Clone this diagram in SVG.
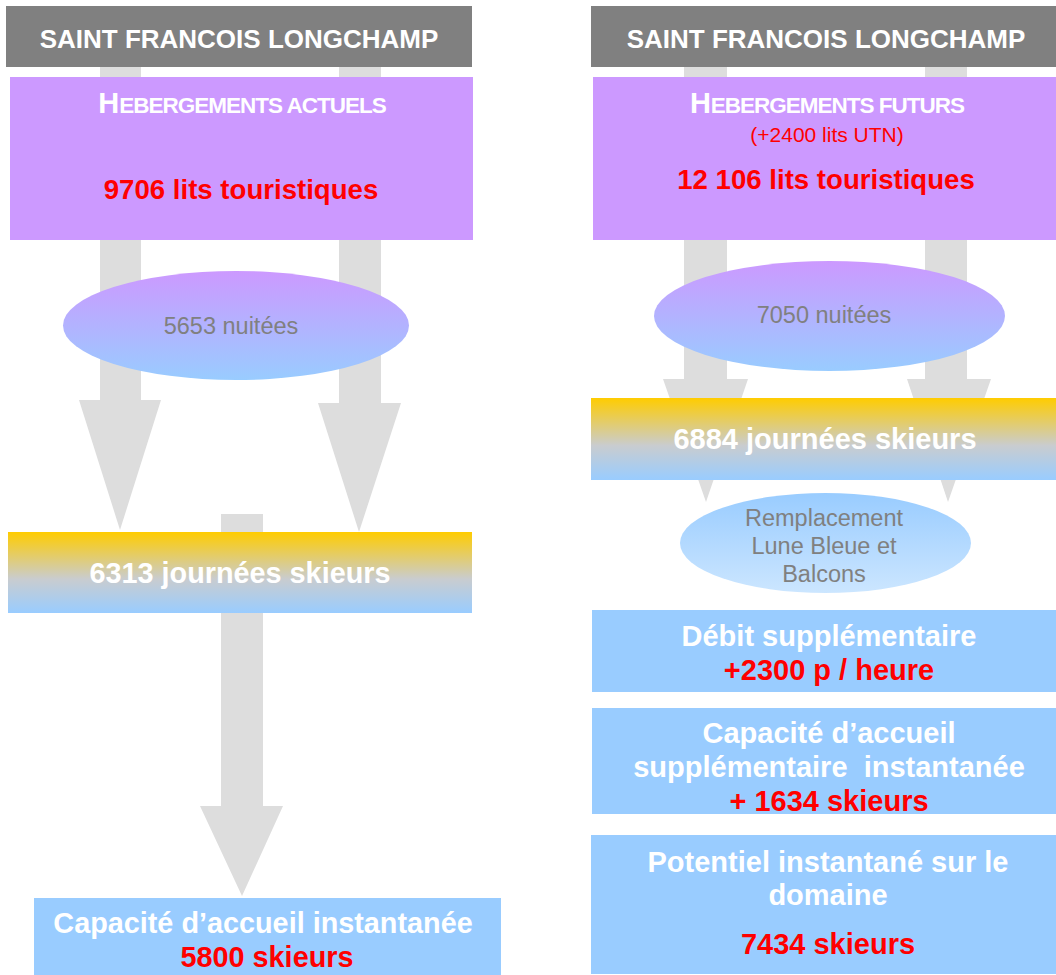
<svg xmlns="http://www.w3.org/2000/svg" width="1056" height="975" viewBox="0 0 1056 975">
  <style>
    text { font-family: "Liberation Sans", Arial, sans-serif; text-anchor: middle; }
    .hdr { fill: #808080; }
    .hdrtxt { fill: #FFFFFF; font-weight: bold; font-size: 26px; }
    .lodg { fill: #CC99FF; }
    .blue { fill: #99CCFF; }
    .white { fill: #FFFFFF; font-weight: bold; }
    .red { fill: #FF0000; font-weight: bold; }
    .grey { fill: #808080; }
    .arrow { fill: #DDDDDD; }
  </style>
  <defs>
    <linearGradient id="gNight" x1="0" y1="0" x2="0" y2="1">
      <stop offset="0" stop-color="#CC99FF"/>
      <stop offset="1" stop-color="#99CCFF"/>
    </linearGradient>
    <linearGradient id="gDay" x1="0" y1="0" x2="0" y2="1">
      <stop offset="0" stop-color="#FFCC00"/>
      <stop offset="0.58" stop-color="#C9CCCF"/>
      <stop offset="1" stop-color="#99CCFF"/>
    </linearGradient>
    <linearGradient id="gLift" x1="0" y1="0" x2="0" y2="1">
      <stop offset="0" stop-color="#99CCFF"/>
      <stop offset="1" stop-color="#CCE6FF"/>
    </linearGradient>
  </defs>

  <!-- flow arrows (behind the boxes) -->
  <g id="connectors">
    <polygon class="arrow" points="100,67 141,67 141,400 161,400 120,530 79,400 100,400"/>
    <polygon class="arrow" points="339,67 381,67 381,403 401,403 359,532 318,403 339,403"/>
    <polygon class="arrow" points="221,514 263,514 263,806 283,806 242,896 200,806 221,806"/>
    <polygon class="arrow" points="684,67 727,67 727,379 748,379 706,502 663,379 684,379"/>
    <polygon class="arrow" points="925,67 967,67 967,379 991,379 948,502 907,379 925,379"/>
  </g>

  <!-- current situation -->
  <g id="header-left">
    <rect class="hdr" x="6" y="6" width="466" height="61"/>
    <text class="hdrtxt" x="239" y="48">SAINT FRANCOIS LONGCHAMP</text>
  </g>
  <g id="lodging-current">
    <rect class="lodg" x="10" y="77" width="463" height="163"/>
    <text class="white" x="242" y="113"><tspan font-size="29">H</tspan><tspan font-size="22.5" letter-spacing="-1">EBERGEMENTS ACTUELS</tspan></text>
    <text class="red" x="241" y="199" font-size="27.6">9706 lits touristiques</text>
  </g>
  <g id="nights-current">
    <ellipse cx="236" cy="325.5" rx="173" ry="54.5" fill="url(#gNight)"/>
    <text class="grey" x="231" y="334" font-size="23.5">5653 nuitées</text>
  </g>
  <g id="skier-days-current">
    <rect x="8" y="532" width="464" height="81" fill="url(#gDay)"/>
    <text class="white" x="240" y="583" font-size="28.8">6313 journées skieurs</text>
  </g>
  <g id="capacity-current">
    <rect class="blue" x="34" y="898" width="467" height="77"/>
    <text class="white" x="263" y="933" font-size="28.8">Capacité d’accueil instantanée</text>
    <text class="red" x="267" y="967" font-size="28.8">5800 skieurs</text>
  </g>

  <!-- future situation -->
  <g id="header-right">
    <rect class="hdr" x="591" y="6" width="465" height="61"/>
    <text class="hdrtxt" x="826" y="48">SAINT FRANCOIS LONGCHAMP</text>
  </g>
  <g id="lodging-future">
    <rect class="lodg" x="593" y="77" width="463" height="163"/>
    <text class="white" x="827" y="113"><tspan font-size="29">H</tspan><tspan font-size="22.5" letter-spacing="-1">EBERGEMENTS FUTURS</tspan></text>
    <text x="827" y="142" font-size="21" fill="#FF0000">(+2400 lits UTN)</text>
    <text class="red" x="826" y="189" font-size="27.6">12 106 lits touristiques</text>
  </g>
  <g id="nights-future">
    <ellipse cx="829.5" cy="316" rx="175.5" ry="55" fill="url(#gNight)"/>
    <text class="grey" x="824" y="323" font-size="23.5">7050 nuitées</text>
  </g>
  <g id="skier-days-future">
    <rect x="591" y="398" width="465" height="82" fill="url(#gDay)"/>
    <text class="white" x="825" y="449" font-size="29">6884 journées skieurs</text>
  </g>
  <g id="lift-replacement">
    <ellipse cx="825.5" cy="543" rx="145.5" ry="50" fill="url(#gLift)"/>
    <text class="grey" x="824" y="526" font-size="23.5">Remplacement</text>
    <text class="grey" x="824" y="554" font-size="23.5">Lune Bleue et</text>
    <text class="grey" x="824" y="582" font-size="23.5">Balcons</text>
  </g>
  <g id="extra-throughput">
    <rect class="blue" x="592" y="610" width="464" height="82"/>
    <text class="white" x="829" y="646" font-size="29">Débit supplémentaire</text>
    <text class="red" x="829" y="680" font-size="29">+2300 p / heure</text>
  </g>
  <g id="extra-capacity">
    <rect class="blue" x="592" y="708" width="464" height="106"/>
    <text class="white" x="829" y="743" font-size="29">Capacité d’accueil</text>
    <text class="white" x="829" y="777" font-size="29" xml:space="preserve">supplémentaire  instantanée</text>
    <text class="red" x="829" y="811" font-size="29">+ 1634 skieurs</text>
  </g>
  <g id="domain-potential">
    <rect class="blue" x="591" y="835" width="465" height="139"/>
    <text class="white" x="828" y="872" font-size="29">Potentiel instantané sur le</text>
    <text class="white" x="828" y="905" font-size="29">domaine</text>
    <text class="red" x="828" y="954" font-size="29">7434 skieurs</text>
  </g>
</svg>
